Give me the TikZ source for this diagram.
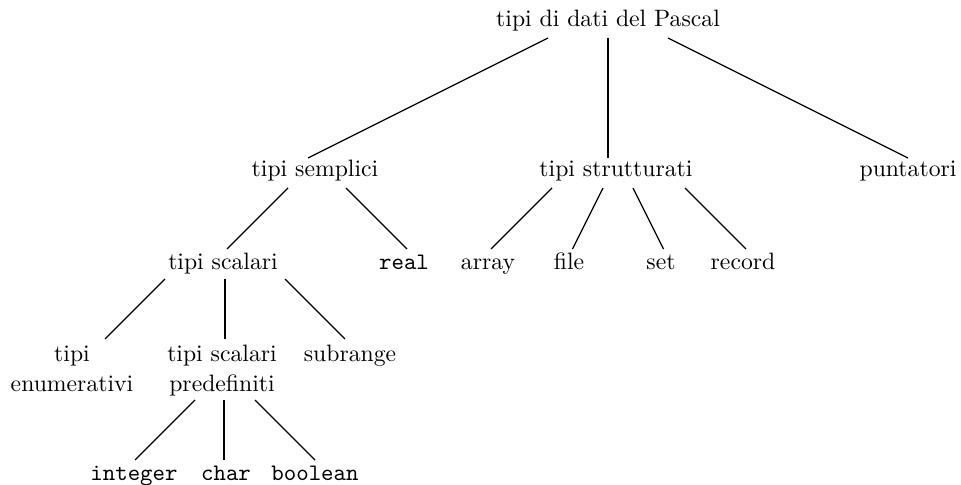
\documentclass[tikz,border=0pt]{standalone}
\usetikzlibrary{calc}
\begin{document}
\begin{tikzpicture}[x=0.422pt,y=-0.422pt,
  lbl/.style={inner sep=0pt,outer sep=0pt,anchor=base,font=\fontsize{10pt}{12.66pt}\selectfont},
  two/.style={lbl,align=center},
  ttl/.style={lbl,font=\fontsize{10pt}{12pt}\selectfont\ttfamily},
  edge/.style={line width=0.55pt,line cap=butt}]
\useasboundingbox (0,0) rectangle (961,485);
% row 1
\node[lbl] (root) at (608,27) {tipi di dati del Pascal};
% row 2
\node[lbl] (semp)  at (315,177) {tipi semplici};
\node[lbl] (strut) at (616,177) {tipi strutturati};
\node[lbl] (punt)  at (908,177) {puntatori};
% row 3
\node[lbl] (scal)   at (223,270) {tipi scalari};
\node[ttl] (real)   at (404,270) {real};
\node[lbl] (array)  at (488,270) {array};
\node[lbl] (file)   at (569,270) {file};
\node[lbl] (set)    at (661,270) {set};
\node[lbl] (record) at (743,270) {record};
% row 4
\node[two] (enum) at (72,392)  {tipi\\enumerativi};
\node[two] (pred) at (222,392) {tipi scalari\\predefiniti};
\node[lbl] (subr) at (350,362) {subrange};
% row 5
\node[ttl] (int)  at (134,480) {integer};
\node[ttl] (char) at (226,480) {char};
\node[ttl] (bool) at (315,480) {boolean};
% connectors
\draw[edge] ($(root.base)+(-60,11)$) -- ($(semp.base)+(-7,-19)$);
\draw[edge] ($(root.base)+(0,11)$)   -- ($(strut.base)+(-8,-19)$);
\draw[edge] ($(root.base)+(60,11)$)  -- ($(punt.base)+(0,-19)$);
\draw[edge] ($(semp.base)+(-27,11)$) -- ($(scal.base)+(4,-21)$);
\draw[edge] ($(semp.base)+(31,11)$)  -- ($(real.base)+(3,-21)$);
\draw[edge] ($(strut.base)+(-64,11)$) -- ($(array.base)+(3,-21)$);
\draw[edge] ($(strut.base)+(-13,11)$) -- ($(file.base)+(3.5,-21)$);
\draw[edge] ($(strut.base)+(17,11)$)  -- ($(set.base)+(2.5,-21)$);
\draw[edge] ($(strut.base)+(69,11)$)  -- ($(record.base)+(3,-21)$);
\draw[edge] ($(scal.base)+(-58,9)$) -- ($(enum.base)+(33,-53)$);
\draw[edge] ($(scal.base)+(2,9)$)   -- ($(pred.base)+(3,-53)$);
\draw[edge] ($(scal.base)+(62,9)$)  -- ($(subr.base)+(-5,-23)$);
\draw[edge] ($(pred.base)+(-27,8)$) -- ($(int.base)+(1,-20)$);
\draw[edge] ($(pred.base)+(2,8)$)   -- ($(char.base)+(-2,-20)$);
\draw[edge] ($(pred.base)+(33,8)$)  -- ($(bool.base)+(0,-20)$);
\end{tikzpicture}
\end{document}
